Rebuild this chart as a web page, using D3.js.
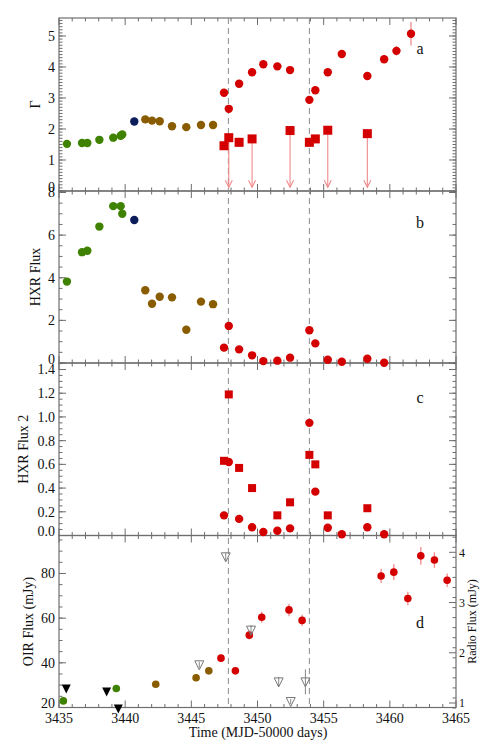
<!DOCTYPE html>
<html>
<head>
<meta charset="utf-8">
<script src="https://cdn.jsdelivr.net/npm/d3@7"></script>
<style>
  body { margin: 0; background: #fff; }
  text { font-family: "Liberation Serif", "DejaVu Serif", serif; fill: #111; }
</style>
</head>
<body>
<div id="chart"></div>
<script>
// colours by state
const cGreen = "#3f8200", cNavy = "#0c1d5c", cBrown = "#8a5c00", cRed = "#d40000";

// panel a : photon index
const gamGreenT = [3435.6, 3436.74, 3437.14, 3438.05, 3439.1, 3439.66, 3439.78];
const gamGreenV = [1.52, 1.55, 1.55, 1.65, 1.72, 1.78, 1.82];
const gamNavyT = [3440.69];
const gamNavyV = [2.24];
const gamBrownT = [3441.52, 3442.03, 3442.61, 3443.54, 3444.62, 3445.73, 3446.64];
const gamBrownV = [2.31, 2.27, 2.25, 2.09, 2.06, 2.13, 2.13];
const gamRedT = [3447.47, 3447.83, 3448.61, 3449.59, 3450.44, 3451.5, 3452.46, 3453.92, 3454.37, 3455.31, 3456.37, 3458.3, 3459.57, 3460.5, 3461.6];
const gamRedV = [3.17, 2.65, 3.46, 3.83, 4.09, 4.02, 3.90, 2.94, 3.25, 3.83, 4.42, 3.71, 4.25, 4.52, 5.07];
const gamRedE = [0.08, 0.1, 0.08, 0.08, 0.08, 0.1, 0.08, 0.08, 0.12, 0.08, 0.12, 0.08, 0.12, 0.15, 0.38];
const gamSqT = [3447.47, 3447.83, 3448.61, 3449.59, 3452.46, 3453.92, 3454.37, 3455.31, 3458.3];
const gamSqV = [1.46, 1.72, 1.57, 1.68, 1.95, 1.57, 1.68, 1.96, 1.85];
const gamSqE = [0.05, 0.1, 0.15, 0.05, 0.05, 0.15, 0.12, 0.08, 0.05];
const gamSqLimit = [false, true, false, true, true, false, false, true, true];

// panel b : hard x-ray flux
const hxrGreenV = [3.82, 5.20, 5.27, 6.40, 7.36, 7.36, 7.00];
const hxrNavyV = [6.71];
const hxrBrownV = [3.41, 2.78, 3.11, 3.08, 1.56, 2.88, 2.76];
const hxrRedT = [3447.47, 3447.83, 3448.61, 3449.59, 3450.44, 3451.5, 3452.46, 3453.92, 3454.37, 3455.31, 3456.37, 3458.3, 3459.57];
const hxrRedV = [0.72, 1.74, 0.64, 0.36, 0.09, 0.11, 0.25, 1.54, 0.92, 0.15, 0.06, 0.20, 0.01];

// panel c : second hard x-ray flux
const hxr2CircT = [3447.47, 3447.83, 3448.61, 3449.59, 3450.44, 3451.5, 3452.46, 3453.92, 3454.37, 3455.31, 3456.37, 3458.3, 3459.57];
const hxr2CircV = [0.17, 0.62, 0.14, 0.07, 0.03, 0.04, 0.06, 0.95, 0.37, 0.065, 0.01, 0.07, 0.01];
const hxr2SqT = [3447.47, 3447.83, 3448.61, 3449.59, 3451.5, 3452.46, 3453.92, 3454.37, 3455.31, 3458.3];
const hxr2SqV = [0.63, 1.19, 0.57, 0.40, 0.17, 0.28, 0.68, 0.60, 0.17, 0.23];

// panel d : OIR and radio
const oirGreenT = [3435.33, 3439.33];
const oirGreenV = [22.96, 28.5];
const oirBrownT = [3442.31, 3445.36, 3446.32];
const oirBrownV = [30.4, 33.3, 36.4];
const oirRedT = [3447.24, 3448.33, 3449.38, 3450.32, 3452.38, 3453.37, 3459.34, 3460.3, 3461.36, 3462.34, 3463.37, 3464.33];
const oirRedV = [42.1, 36.4, 52.4, 60.4, 63.7, 59.0, 78.9, 80.6, 68.8, 87.9, 86.0, 77.0];
const oirRedE = [1.5, 1.2, 2.0, 2.5, 2.8, 2.5, 3.2, 3.5, 3.0, 4.0, 3.5, 3.0];
const oirLimT = [3435.55, 3438.6, 3439.48];
const oirLimV = [28.5, 27.2, 19.5];
const radioT = [3445.6, 3447.6, 3449.51, 3451.6, 3452.51, 3453.62];
const radioV = [1.76, 3.91, 2.45, 1.42, 1.03, 1.42];
const radioE = [0.06, 0.08, 0.1, 0.1, 0.05, 0.25];

const dashT = [3447.8, 3453.92];
const xTicks = [3435, 3440, 3445, 3450, 3455, 3460, 3465];

const W = 480, H = 746;
const left = 59, right = 456;
const svg = d3.select("#chart").append("svg").attr("width", W).attr("height", H);

const x = d3.scaleLinear().domain([3435, 3465]).range([left, right]);
const axisCol = "#6e6e6e";

const panels = [
  { top: 18, bottom: 191, dom: [0, 5.58], major: [0, 1, 2, 3, 4, 5], minor: 0.1, fmt: d3.format("d"), title: "Γ", tx: 35, letter: "a", ly: 48 },
  { top: 191, bottom: 363, dom: [0, 8.07], major: [0, 2, 4, 6, 8], minor: 0.5, fmt: d3.format("d"), title: "HXR Flux", tx: 35, letter: "b", ly: 222 },
  { top: 363, bottom: 535.5, dom: [0, 1.455], major: [0, 0.2, 0.4, 0.6, 0.8, 1.0, 1.2, 1.4], minor: 0.05, fmt: d3.format(".1f"), title: "HXR Flux 2", tx: 23, letter: "c", ly: 397 },
  { top: 535.5, bottom: 707.5, dom: [20, 97], major: [20, 40, 60, 80], minor: 5, fmt: d3.format("d"), title: "OIR Flux (mJy)", tx: 28, letter: "d", ly: 622 }
];

panels.forEach(p => {
  p.y = d3.scaleLinear().domain(p.dom).range([p.bottom, p.top]);
});
const yR = d3.scaleLinear().domain([1, 4]).range([703, 552.3]);

// frames and ticks
panels.forEach((p, i) => {
  const g = svg.append("g");
  g.append("rect").attr("x", left).attr("y", p.top).attr("width", right - left).attr("height", p.bottom - p.top)
    .attr("fill", "none").attr("stroke", axisCol).attr("stroke-width", 1.2);

  // x ticks top and bottom
  d3.range(3435, 3466, 1).forEach(t => {
    const len = t % 5 === 0 ? 7 : 3.5;
    g.append("line").attr("x1", x(t)).attr("x2", x(t)).attr("y1", p.bottom).attr("y2", p.bottom - len).attr("stroke", axisCol);
    g.append("line").attr("x1", x(t)).attr("x2", x(t)).attr("y1", p.top).attr("y2", p.top + len).attr("stroke", axisCol);
  });

  // y minor ticks
  const mins = d3.range(p.dom[0], p.dom[1] + 1e-9, p.minor);
  mins.forEach(v => {
    g.append("line").attr("x1", left).attr("x2", left + 3.5).attr("y1", p.y(v)).attr("y2", p.y(v)).attr("stroke", axisCol);
    if (i < 3) g.append("line").attr("x1", right).attr("x2", right - 3.5).attr("y1", p.y(v)).attr("y2", p.y(v)).attr("stroke", axisCol);
  });
  p.major.forEach(v => {
    g.append("line").attr("x1", left).attr("x2", left + 7).attr("y1", p.y(v)).attr("y2", p.y(v)).attr("stroke", axisCol);
    if (i < 3) g.append("line").attr("x1", right).attr("x2", right - 7).attr("y1", p.y(v)).attr("y2", p.y(v)).attr("stroke", axisCol);
    const off = v === p.dom[0] ? -4 : 0;
    g.append("text").attr("x", 55).attr("y", p.y(v) + off).attr("dy", "0.35em")
      .attr("text-anchor", "end").attr("font-size", 14).text(p.fmt(v));
  });

  g.append("text").attr("transform", `translate(${p.tx},${(p.top + p.bottom) / 2}) rotate(-90)`)
    .attr("text-anchor", "middle").attr("dy", "0.35em").attr("font-size", 14).text(p.title);
  g.append("text").attr("x", 420).attr("y", p.ly).attr("dy", "0.35em").attr("text-anchor", "middle")
    .attr("font-size", 16).text(p.letter);
});

// radio axis on right of panel d
const pd = panels[3];
d3.range(0.92, 4.33, 0.2).forEach(v => {
  const r = Math.round(v * 10) / 10;
  svg.append("line").attr("x1", right).attr("x2", right - 3.5).attr("y1", yR(r)).attr("y2", yR(r)).attr("stroke", axisCol);
});
[1, 2, 3, 4].forEach(v => {
  svg.append("line").attr("x1", right).attr("x2", right - 7).attr("y1", yR(v)).attr("y2", yR(v)).attr("stroke", axisCol);
  svg.append("text").attr("x", 459).attr("y", yR(v)).attr("dy", "0.35em").attr("font-size", 12).text(v);
});
svg.append("text").attr("transform", `translate(472,${(pd.top + pd.bottom) / 2}) rotate(-90)`)
  .attr("text-anchor", "middle").attr("dy", "0.35em").attr("font-size", 12).text("Radio Flux (mJy)");

// x tick labels and title
xTicks.forEach(t => {
  svg.append("text").attr("x", x(t)).attr("y", 723).attr("text-anchor", "middle").attr("font-size", 14).text(t);
});
svg.append("text").attr("x", 258).attr("y", 737).attr("text-anchor", "middle").attr("font-size", 14).text("Time (MJD-50000 days)");

// dashed lines
dashT.forEach(t => {
  svg.append("line").attr("x1", x(t)).attr("x2", x(t)).attr("y1", 18).attr("y2", 707.5)
    .attr("stroke", "#8a8a8a").attr("stroke-dasharray", "6,4").attr("stroke-width", 1);
});

const errCol = "#f08a8a";

function errBars(g, ys, T, V, E) {
  g.selectAll(null).data(T).enter().append("line")
    .attr("x1", d => x(d)).attr("x2", d => x(d))
    .attr("y1", (d, i) => ys(V[i] - E[i])).attr("y2", (d, i) => ys(V[i] + E[i]))
    .attr("stroke", errCol).attr("stroke-width", 1.3);
}
function circles(g, ys, T, V, col, r = 4.2) {
  g.selectAll(null).data(T).enter().append("circle")
    .attr("cx", d => x(d)).attr("cy", (d, i) => ys(V[i])).attr("r", r).attr("fill", col);
}
function squares(g, ys, T, V, col, s = 8) {
  g.selectAll(null).data(T).enter().append("rect")
    .attr("x", d => x(d) - s / 2).attr("y", (d, i) => ys(V[i]) - s / 2)
    .attr("width", s).attr("height", s).attr("fill", col);
}

// panel a
const ga = svg.append("g"), ya = panels[0].y;
gamSqT.forEach((t, i) => {
  if (!gamSqLimit[i]) return;
  const yb = ya(0.12);
  ga.append("line").attr("x1", x(t)).attr("x2", x(t)).attr("y1", ya(gamSqV[i])).attr("y2", yb).attr("stroke", errCol).attr("stroke-width", 1.1);
  ga.append("path").attr("d", `M${x(t) - 3.5},${yb - 7}L${x(t)},${yb}L${x(t) + 3.5},${yb - 7}`)
    .attr("fill", "none").attr("stroke", errCol).attr("stroke-width", 1.1);
});
errBars(ga, ya, gamRedT, gamRedV, gamRedE);
errBars(ga, ya, gamSqT, gamSqV, gamSqE);
circles(ga, ya, gamGreenT, gamGreenV, cGreen);
circles(ga, ya, gamNavyT, gamNavyV, cNavy);
circles(ga, ya, gamBrownT, gamBrownV, cBrown);
circles(ga, ya, gamRedT, gamRedV, cRed);
squares(ga, ya, gamSqT, gamSqV, cRed, 9);

// panel b
const gb = svg.append("g"), yb = panels[1].y;
circles(gb, yb, gamGreenT, hxrGreenV, cGreen);
circles(gb, yb, gamNavyT, hxrNavyV, cNavy);
circles(gb, yb, gamBrownT, hxrBrownV, cBrown);
circles(gb, yb, hxrRedT, hxrRedV, cRed);

// panel c
const gc = svg.append("g"), yc = panels[2].y;
squares(gc, yc, hxr2SqT, hxr2SqV, cRed, 8);
circles(gc, yc, hxr2CircT, hxr2CircV, cRed);

// panel d
const gd = svg.append("g"), yd = panels[3].y;
errBars(gd, yd, oirRedT, oirRedV, oirRedE);
circles(gd, yd, oirGreenT, oirGreenV, cGreen, 3.8);
circles(gd, yd, oirBrownT, oirBrownV, cBrown, 3.8);
circles(gd, yd, oirRedT, oirRedV, cRed, 3.8);
oirLimT.forEach((t, i) => {
  const cy = yd(oirLimV[i]);
  gd.append("path").attr("d", `M${x(t) - 4.5},${cy - 4}L${x(t) + 4.5},${cy - 4}L${x(t)},${cy + 5}Z`).attr("fill", "#000");
});
radioT.forEach((t, i) => {
  const cy = yR(radioV[i]);
  gd.append("line").attr("x1", x(t)).attr("x2", x(t)).attr("y1", yR(radioV[i] - radioE[i])).attr("y2", yR(radioV[i] + radioE[i]))
    .attr("stroke", "#888").attr("stroke-width", 1);
  gd.append("path").attr("d", `M${x(t) - 4.5},${cy - 4}L${x(t) + 4.5},${cy - 4}L${x(t)},${cy + 5}Z`)
    .attr("fill", "none").attr("stroke", "#777").attr("stroke-width", 1);
});
</script>
</body>
</html>
